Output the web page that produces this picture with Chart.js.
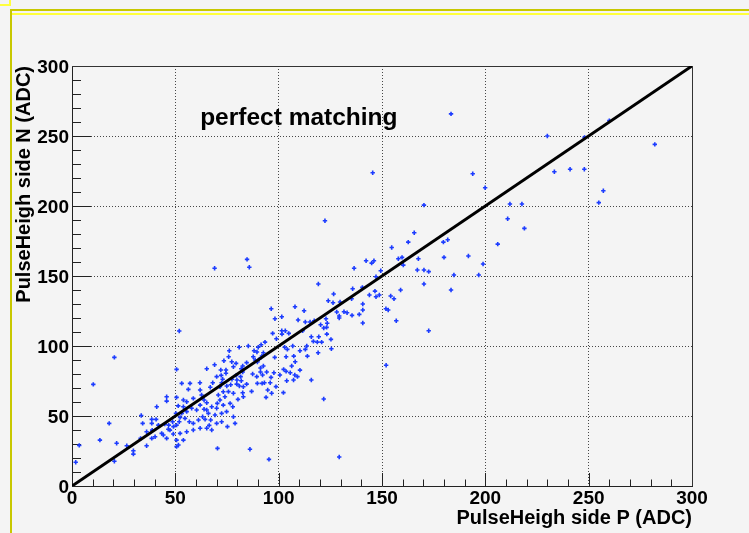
<!DOCTYPE html>
<html>
<head>
<meta charset="utf-8">
<script src="https://cdn.jsdelivr.net/npm/chart.js@4/dist/chart.umd.min.js"></script>
<style>
  html, body { margin: 0; padding: 0; background: #f4f4f4; }
  canvas { display: block; }
</style>
</head>
<body>
<canvas id="chart" width="749" height="533"></canvas>
<script>
// Pulse height of each hit read on the P side (x) and on the N side (y), in ADC counts.
const sideP = [
  // P below 33
  1.8, 3.5, 10.3, 13.5, 18, 20.5, 20.5, 21.6, 26.5, 29.7, 29.7,
  // P 33-50
  33.5, 34.2, 33.2, 36.1, 36.1, 38.8, 38.6, 40.7, 38.6, 41, 38.6, 40.2, 41.8, 43.4, 44.2, 44.9, 45.8, 45.8, 45.8, 46.6, 46.8, 47.4, 48.7, 49, 49.1,
  // P 50-62
  50.6, 51.9, 53.1, 57.1, 61.9, 56.3, 62, 50.6, 53.9, 55.5, 58.7, 62, 60.3, 57.9, 55.5, 53.1, 50.3, 52.3, 54.7, 51.9, 50.6, 56.8, 58.7, 61.2, 52.3, 55.5, 58.7, 62, 53.9, 51.5, 50.6, 50.6, 53.9, 51.4,
  // P 62-83
  68.1, 72.4, 79.7, 62.7, 63.9, 65.2, 70.8, 71.6, 74, 75.7,
  76.5, 73.2, 70, 67.6, 65.2, 66, 69.2, 72.4, 74.8, 78.1,
  78.9, 75.2, 72.4, 70, 67.1, 64.4, 65.2, 67.6, 70.4, 71.6,
  66.9, 74.9, 76.8, 79.8, 77.4, 81, 78.1, 73.2, 70.3, 63.9,
  80.3, 77.8, 66.4, 63.2, 72.2, 70, 76.1, 73.5, 69, 65.2,
  72, 74.5, 74.5, 81.9, 81.6, 79.4, 82.6, 75.8, 79.4, 78.1,
  77.3, 81.9, 82.6, 80.9, 72.9, 82.6, 82.9, 69,
  // P 83-101
  84.7, 85.8, 91.2, 92.6, 91.2, 89.4, 94.2, 97.7, 96.3, 92,
  93.1, 89.7, 87.4, 86.9, 84.5, 82.9, 93.9, 94.7, 95.9, 91.9,
  90.6, 88.6, 89.7, 88.1, 89.5, 87.7, 84.5, 98.1, 93.4, 91.5,
  90.1, 85.3, 97.1, 98.9, 96.4, 98.2, 86.1, 95.3, 92.6, 92.2,
  100.6, 98.7, 96.6,
  // P 101-140
  103.6, 107.3, 106.3, 103.6, 102.4, 102.9, 104.2, 106.8, 110.3, 113.6,
  116.8, 118.7, 120.8, 125.5, 101.5, 103.2, 104.9, 101.6, 101.5, 107.9,
  112.3, 109.4, 112.9, 115.2, 117.2, 120.3, 121.8, 123.2, 123.5, 119.2,
  135.8, 126.6, 124, 126.3, 129.7, 131.6, 133.1, 135.5, 129.3, 129.3,
  136.5, 129.3, 121.8, 122.9, 111.6, 115.8, 119.4, 123.3, 125.3, 112.9,
  113.9, 119.1, 108, 105.6, 107.8, 107.2, 103.9, 102.3, 109.1, 110.3,
  115.8, 122.4, 135.3, 139, 128.1,
  // P above 140
  183.4, 145.5, 193.9, 199.9, 170.3, 165.6, 162.7, 179.7, 181.8, 154.7,
  191.8, 180, 157.9, 159.7, 167.6, 198.9, 142.3, 146.1, 145, 160.3,
  149.4, 167.1, 170.3, 172.6, 147.1, 184.8, 196.8, 170.3, 159, 183.4,
  140.5, 146.6, 143.9, 147.1, 148.7, 154.2, 155.8, 140.7, 151.9, 153,
  140.7, 156.9, 140.7, 172.6, 206, 152, 230, 248, 260, 282,
  233.4, 241, 247.9, 257.1, 254.9, 211.9, 217.7, 210.8, 218.9
];
const sideN = [
  17, 29, 72.6, 32.8, 44.7, 91.9, 17.7, 30.5, 28.7, 25.2, 22.8,
  50.4, 44.7, 34, 28.7, 38.8, 39.9, 47.6, 47.6, 44.7, 56.6, 34, 35.2, 43.5, 37.6, 36.4, 44.2, 34, 63.8, 60.6, 40.5, 43.5, 39.9, 45.9, 37.1, 42.4,
  83.3, 110.7, 73.3, 73.3, 73.8, 69, 68.6, 63.3, 61.4, 60.2, 62.6, 57.8, 54.3, 55.5, 53.1, 51.9, 51.9, 49, 48.3, 45.9, 43.5, 45.9, 44.7, 47.1, 37.6, 38.8, 40, 41.2, 32.8, 29.3, 32.8, 28.1, 56.6, 57.2,
  73.8, 73.8, 72.8, 65, 61.4, 59.5, 65, 61.4, 63.8, 67.4,
  59, 57.8, 55.5, 56.6, 54.3, 51.9, 50.7, 51.9, 53.1, 49.5,
  44.7, 42.4, 45.9, 44.7, 47.1, 47.6, 41.2, 40, 26.9, 70.9,
  70.5, 71.4, 72.3, 75.7, 76.2, 71.4, 66.2, 67.3, 59, 54.8,
  61.9, 56.6, 43.3, 49.5, 79, 78.1, 96.6, 89.5, 86.6, 83.8,
  82.9, 82.9, 80.5, 75.2, 78.1, 79, 66.6, 92.3, 87.6, 85.2,
  88.8, 83.8, 85.7, 99.1, 76.2, 81.4, 63.8, 155.5,
  161.9, 156.2, 84.3, 85.7, 81.4, 78.1, 81.4, 80.9, 77.6, 73.3,
  73.8, 73.3, 80, 67.6, 72.8, 70.9, 63.3, 68.6, 73.8, 92.8,
  90.5, 90, 88.6, 96.6, 95.7, 92.3, 88.1, 91.9, 102.8, 100.9,
  99.1, 100, 109, 105.2, 126.6, 119.5, 26.2, 19, 95.2, 79.3,
  79.3, 71, 66.2,
  92.3, 92.8, 85.7, 81.9, 83.3, 99.1, 97.6, 100, 96.6, 100,
  103.3, 102.8, 102.8, 98, 110.9, 110.9, 109, 108.5, 120.9, 128,
  125.2, 118.6, 117.1, 117.1, 118, 115.2, 112.9, 113.3, 116.2, 144.3,
  140.9, 137.1, 132.3, 130.9, 131.4, 124.5, 123.8, 121.9, 121.4, 120,
  155.5, 20.7, 62.1, 119.5, 110.9, 106.6, 106.6, 108.5, 104.7, 97.6,
  92.8, 95.2, 88.8, 80.9, 79.3, 75.7, 75.2, 66.7, 78.1, 82.8,
  75.7, 189.5, 133.8, 122.6, 124.3,
  265.8, 223.7, 223, 213, 200.6, 180.9, 174.2, 174.2, 175.9, 170.4,
  164.3, 163.3, 162.3, 163.3, 162.3, 158.6, 160.9, 160.9, 159.2, 157.8,
  153.8, 154.3, 154.3, 153.1, 149.5, 150.7, 150.7, 144.3, 140, 140,
  141.9, 139.2, 136.4, 135.2, 136.4, 135.7, 133.8, 130, 126.6, 125.7,
  125.7, 118, 116.4, 110.9, 172.8, 86.2, 250, 249, 261, 244,
  224.5, 226.2, 226.2, 210.9, 202.4, 201.4, 201.4, 190.9, 184
];

// Equal response on both sides: N = P
const matchLineP = [0, 300];
const matchLineN = [0, 300];

// Axis range and tick spacing (ADC)
const axisRange = [0, 300];
const majorStep = 50;
const minorStep = 10;

const xTitle = 'PulseHeigh side P (ADC)';
const yTitle = 'PulseHeigh side N (ADC)';
const noteText = 'perfect matching';
const noteAt = [62, 258];

const FONT = "'Liberation Sans', Arial, Helvetica, sans-serif";
Chart.defaults.font.family = FONT;

const hits = sideP.map((p, i) => ({ x: p, y: sideN[i] }));
const matchLine = matchLineP.map((p, i) => ({ x: p, y: matchLineN[i] }));

// Canvas background and the highlighted pad outline
const padOutline = {
  id: 'padOutline',
  beforeDraw(chart) {
    const { ctx, width, height } = chart;
    ctx.save();
    ctx.fillStyle = '#f4f4f4';
    ctx.fillRect(0, 0, width, height);
    ctx.fillStyle = '#c8c800';
    ctx.fillRect(11, 9, width - 11, 2);
    ctx.fillRect(10, 9, 2, height - 9);
    ctx.fillStyle = '#ffff3c';
    ctx.fillRect(12, 13, width - 12, 2);
    ctx.fillRect(0, 4, 10, 2);
    ctx.fillRect(9, 0, 2, 6);
    ctx.restore();
  }
};

// Inward tick marks and the top/right edges of the frame
const frameTicks = {
  id: 'frameTicks',
  beforeDatasetsDraw(chart) {
    const { ctx, chartArea: a, scales: { x, y } } = chart;
    ctx.save();
    ctx.strokeStyle = '#222';
    ctx.lineWidth = 1;
    ctx.beginPath();
    for (let v = axisRange[0]; v <= axisRange[1]; v += minorStep) {
      const major = v % majorStep === 0;
      const px = Math.round(x.getPixelForValue(v)) + 0.5;
      ctx.moveTo(px, a.bottom);
      ctx.lineTo(px, a.bottom - (major ? 13 : 6.5));
      const py = Math.round(y.getPixelForValue(v)) + 0.5;
      ctx.moveTo(a.left, py);
      ctx.lineTo(a.left + (major ? 19 : 9), py);
    }
    ctx.stroke();
    ctx.fillStyle = '#333';
    ctx.fillRect(a.left, Math.round(a.top), a.right - a.left, 1);
    ctx.fillRect(Math.round(a.right), a.top, 1, a.bottom - a.top);
    ctx.restore();
  },
  afterDatasetsDraw(chart) {
    const { ctx, scales: { x, y } } = chart;
    ctx.save();
    ctx.font = 'bold 24.5px ' + FONT;
    ctx.fillStyle = '#000';
    ctx.textAlign = 'left';
    ctx.textBaseline = 'alphabetic';
    ctx.fillText(noteText, x.getPixelForValue(noteAt[0]), y.getPixelForValue(noteAt[1]));
    ctx.restore();
  }
};

const gridColor = c => (c.tick && (c.tick.value === axisRange[0] || c.tick.value === axisRange[1]))
  ? 'rgba(0,0,0,0)' : 'rgba(40,40,40,0.85)';

new Chart(document.getElementById('chart'), {
  type: 'scatter',
  data: {
    datasets: [
      {
        label: 'N = P',
        data: matchLine,
        showLine: true,
        borderColor: '#000',
        borderWidth: 3,
        pointRadius: 0,
        order: 0
      },
      {
        label: 'hits',
        data: hits,
        pointStyle: 'cross',
        pointRadius: 2.2,
        borderWidth: 1.6,
        borderColor: '#1c3cff',
        backgroundColor: '#1c3cff',
        order: 1
      }
    ]
  },
  options: {
    responsive: false,
    animation: false,
    devicePixelRatio: 1,
    layout: { padding: { top: 66, right: 57, left: 0, bottom: 0 } },
    plugins: { legend: { display: false }, tooltip: { enabled: false } },
    scales: {
      x: {
        type: 'linear',
        position: 'bottom',
        min: axisRange[0],
        max: axisRange[1],
        afterFit(s) { s.height = 47; },
        ticks: {
          stepSize: majorStep,
          color: '#000',
          font: { size: 19, weight: 'bold' },
          padding: 1,
          maxRotation: 0,
          autoSkip: false
        },
        grid: { drawTicks: false, color: gridColor, lineWidth: 1 },
        border: { display: true, color: '#222', width: 1, dash: [1, 2] },
        title: {
          display: true,
          text: xTitle,
          align: 'end',
          color: '#000',
          font: { size: 20, weight: 'bold' },
          padding: { top: 0, bottom: 2.2 }
        }
      },
      y: {
        type: 'linear',
        position: 'left',
        min: axisRange[0],
        max: axisRange[1],
        afterFit(s) { s.width = 72; },
        ticks: {
          stepSize: majorStep,
          color: '#000',
          font: { size: 19, weight: 'bold' },
          padding: 3,
          labelOffset: 2
        },
        grid: { drawTicks: false, color: gridColor, lineWidth: 1 },
        border: { display: true, color: '#222', width: 1, dash: [1, 2] },
        title: {
          display: true,
          text: yTitle,
          align: 'end',
          color: '#000',
          font: { size: 20, weight: 'bold' },
          padding: { top: 12.8, bottom: 0 }
        }
      }
    }
  },
  plugins: [padOutline, frameTicks]
});
</script>
</body>
</html>
